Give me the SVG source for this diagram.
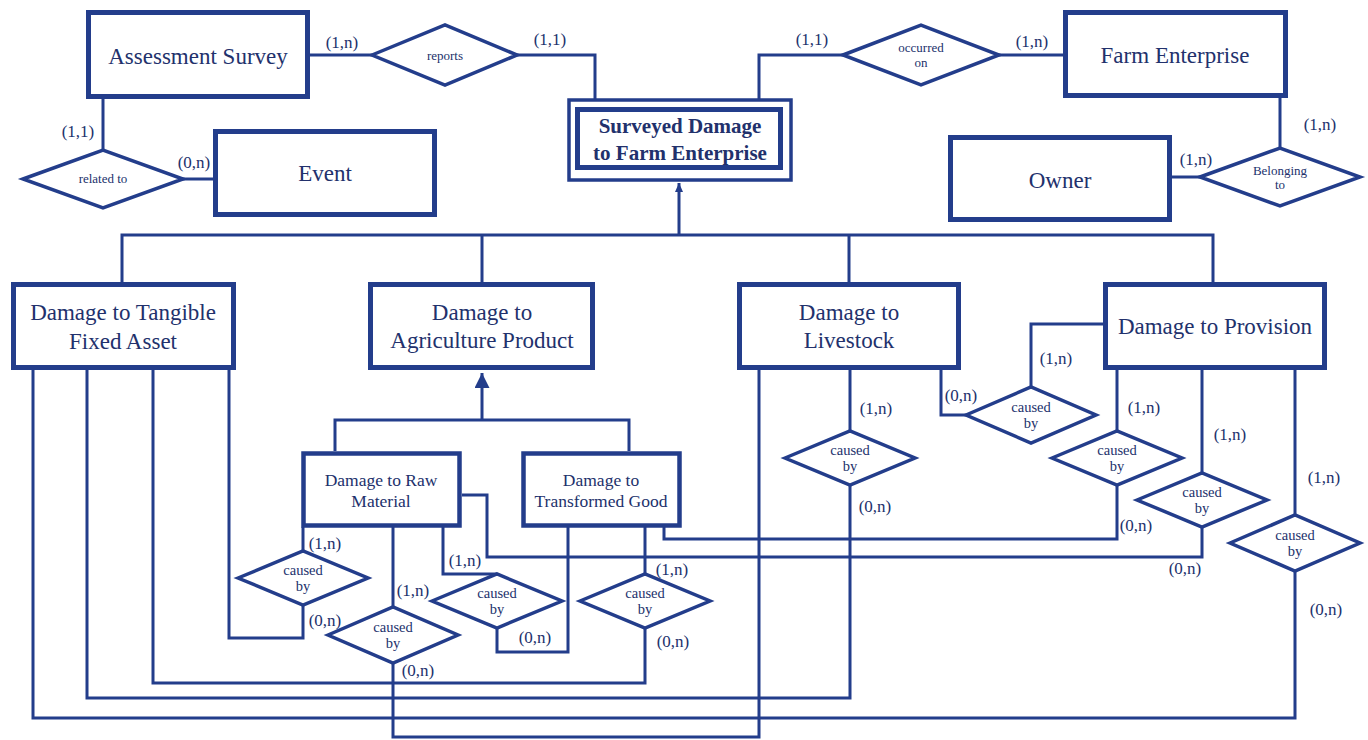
<svg xmlns="http://www.w3.org/2000/svg" width="1368" height="740" viewBox="0 0 1368 740">
  <style>
    .ent { fill: #ffffff; stroke: #233d8b; stroke-width: 5; }
    .sub { fill: #ffffff; stroke: #233d8b; stroke-width: 4.5; }
    .rel { fill: #ffffff; stroke: #233d8b; stroke-width: 3.5; stroke-linejoin: miter; }
    .ln { fill: none; stroke: #233d8b; stroke-width: 3; stroke-linejoin: miter; }
    text { font-family: "Liberation Serif", "Times New Roman", serif; fill: #22316c; text-anchor: middle; }
    .t { font-size: 23px; }
    .tb { font-size: 21px; font-weight: bold; }
    .ts { font-size: 17.5px; }
    .rt { font-size: 14.5px; }
    .rs { font-size: 13px; }
    .c { font-size: 17px; }
  </style>
  <defs>
    <marker id="isaSmall" markerUnits="userSpaceOnUse" markerWidth="9" markerHeight="9" refX="9" refY="4" orient="auto">
      <path d="M0,0 L9,4 L0,8 z" fill="#233d8b"/>
    </marker>
    <marker id="isaLarge" markerUnits="userSpaceOnUse" markerWidth="16" markerHeight="16" refX="15" refY="7.5" orient="auto">
      <path d="M0,0 L15,7.5 L0,15 z" fill="#233d8b"/>
    </marker>
  </defs>

  <!-- connectors -->
  <g id="connectors">
    <path class="ln" d="M310,55 H372"/>
    <path class="ln" d="M517,55 H595 V99"/>
    <path class="ln" d="M759,99 V55 H843"/>
    <path class="ln" d="M999,55 H1063"/>
    <path class="ln" d="M1280,97 V148"/>
    <path class="ln" d="M1172,177 H1200"/>
    <path class="ln" d="M103,99 V150"/>
    <path class="ln" d="M183,179 H213"/>

    <!-- generalisation of surveyed damage -->
    <path class="ln" d="M122,282 V235 H1213 V282"/>
    <path class="ln" d="M482,235 V282"/>
    <path class="ln" d="M849,235 V282"/>
    <path class="ln" d="M679,235 V183" marker-end="url(#isaSmall)"/>

    <!-- generalisation of agriculture product -->
    <path class="ln" d="M335,451 V420 H629 V451"/>
    <path class="ln" d="M482,420 V373" marker-end="url(#isaLarge)"/>

    <!-- tangible fixed asset links -->
    <path class="ln" d="M229,369 V638 H303 V605"/>
    <path class="ln" d="M153,369 V683 H645 V628"/>
    <path class="ln" d="M87,369 V698 H850 V485"/>
    <path class="ln" d="M33,369 V718 H1295 V571"/>

    <!-- raw material links -->
    <path class="ln" d="M303,527 V551"/>
    <path class="ln" d="M393,527 V607"/>
    <path class="ln" d="M393,663 V737 H759 V369"/>
    <path class="ln" d="M443,527 V574 H497"/>
    <path class="ln" d="M497,628 V652 H568 V527"/>
    <path class="ln" d="M462,495 H487 V557 H1202 V527"/>

    <!-- transformed good links -->
    <path class="ln" d="M645,527 V574"/>
    <path class="ln" d="M664,527 V539 H1117 V485"/>

    <!-- livestock links -->
    <path class="ln" d="M850,369 V431"/>
    <path class="ln" d="M941,369 V415 H966"/>

    <!-- provision links -->
    <path class="ln" d="M1105,324 H1031 V387"/>
    <path class="ln" d="M1117,369 V431"/>
    <path class="ln" d="M1202,369 V473"/>
    <path class="ln" d="M1295,369 V515"/>
  </g>

  <!-- entities -->
  <g id="assessment-survey">
    <rect class="ent" x="88.5" y="12.5" width="219" height="84"/>
    <text class="t" x="198" y="64">Assessment Survey</text>
  </g>
  <g id="event">
    <rect class="ent" x="215.5" y="131.5" width="219" height="83"/>
    <text class="t" x="325" y="181">Event</text>
  </g>
  <g id="surveyed-damage">
    <rect fill="#ffffff" stroke="#233d8b" stroke-width="3.5" x="569" y="100" width="222" height="80"/>
    <rect fill="#ffffff" stroke="#233d8b" stroke-width="5" x="577.5" y="109.5" width="203" height="58"/>
    <text class="tb" x="680" y="133">Surveyed Damage</text>
    <text class="tb" x="680" y="160">to Farm Enterprise</text>
  </g>
  <g id="farm-enterprise">
    <rect class="ent" x="1065.5" y="12.5" width="220" height="83"/>
    <text class="t" x="1175" y="63">Farm Enterprise</text>
  </g>
  <g id="owner">
    <rect class="ent" x="950.5" y="137.5" width="219" height="82"/>
    <text class="t" x="1060" y="188">Owner</text>
  </g>
  <g id="tangible-fixed-asset">
    <rect class="ent" x="13.5" y="284.5" width="220" height="83"/>
    <text class="t" x="123" y="320">Damage to Tangible</text>
    <text class="t" x="123" y="349">Fixed Asset</text>
  </g>
  <g id="agriculture-product">
    <rect class="ent" x="370.5" y="284.5" width="222" height="83"/>
    <text class="t" x="482" y="320">Damage to</text>
    <text class="t" x="482" y="348">Agriculture Product</text>
  </g>
  <g id="livestock">
    <rect class="ent" x="739.5" y="284.5" width="219" height="83"/>
    <text class="t" x="849" y="320">Damage to</text>
    <text class="t" x="849" y="348">Livestock</text>
  </g>
  <g id="provision">
    <rect class="ent" x="1105.5" y="284.5" width="219" height="83"/>
    <text class="t" x="1215" y="334">Damage to Provision</text>
  </g>
  <g id="raw-material">
    <rect class="sub" x="303.5" y="453.5" width="156" height="72"/>
    <text class="ts" x="381" y="486">Damage to Raw</text>
    <text class="ts" x="381" y="507">Material</text>
  </g>
  <g id="transformed-good">
    <rect class="sub" x="523.5" y="453.5" width="156" height="72"/>
    <text class="ts" x="601" y="486">Damage to</text>
    <text class="ts" x="601" y="507">Transformed Good</text>
  </g>

  <!-- relationships -->
  <g id="reports">
    <polygon class="rel" points="372,55 445,25 517,55 445,85"/>
    <text class="rs" x="445" y="60">reports</text>
  </g>
  <g id="occurred-on">
    <polygon class="rel" points="843,55 921,25 999,55 921,85"/>
    <text class="rs" x="921" y="52">occurred</text>
    <text class="rs" x="921" y="67">on</text>
  </g>
  <g id="related-to">
    <polygon class="rel" points="23,179 103,150 183,179 103,208"/>
    <text class="rs" x="103" y="183">related to</text>
  </g>
  <g id="belonging-to">
    <polygon class="rel" points="1200,177 1280,148 1360,177 1280,206"/>
    <text class="rs" x="1280" y="175">Belonging</text>
    <text class="rs" x="1280" y="189">to</text>
  </g>
  <g id="caused-by-a">
    <polygon class="rel" points="238,578 303,551 368,578 303,605"/>
    <text class="rt" x="303" y="575">caused</text>
    <text class="rt" x="303" y="591">by</text>
  </g>
  <g id="caused-by-b">
    <polygon class="rel" points="328,635 393,607 458,635 393,663"/>
    <text class="rt" x="393" y="632">caused</text>
    <text class="rt" x="393" y="648">by</text>
  </g>
  <g id="caused-by-c">
    <polygon class="rel" points="432,601 497,574 562,601 497,628"/>
    <text class="rt" x="497" y="598">caused</text>
    <text class="rt" x="497" y="614">by</text>
  </g>
  <g id="caused-by-d">
    <polygon class="rel" points="580,601 645,574 710,601 645,628"/>
    <text class="rt" x="645" y="598">caused</text>
    <text class="rt" x="645" y="614">by</text>
  </g>
  <g id="caused-by-e">
    <polygon class="rel" points="785,458 850,431 915,458 850,485"/>
    <text class="rt" x="850" y="455">caused</text>
    <text class="rt" x="850" y="471">by</text>
  </g>
  <g id="caused-by-f">
    <polygon class="rel" points="966,415 1031,387 1096,415 1031,443"/>
    <text class="rt" x="1031" y="412">caused</text>
    <text class="rt" x="1031" y="428">by</text>
  </g>
  <g id="caused-by-g">
    <polygon class="rel" points="1052,458 1117,431 1182,458 1117,485"/>
    <text class="rt" x="1117" y="455">caused</text>
    <text class="rt" x="1117" y="471">by</text>
  </g>
  <g id="caused-by-h">
    <polygon class="rel" points="1137,500 1202,473 1267,500 1202,527"/>
    <text class="rt" x="1202" y="497">caused</text>
    <text class="rt" x="1202" y="513">by</text>
  </g>
  <g id="caused-by-i">
    <polygon class="rel" points="1230,543 1295,515 1360,543 1295,571"/>
    <text class="rt" x="1295" y="540">caused</text>
    <text class="rt" x="1295" y="556">by</text>
  </g>

  <!-- cardinalities -->
  <g id="cardinalities">
    <text class="c" x="342" y="48">(1,n)</text>
    <text class="c" x="550" y="45">(1,1)</text>
    <text class="c" x="812" y="45">(1,1)</text>
    <text class="c" x="1032" y="47">(1,n)</text>
    <text class="c" x="1320" y="130">(1,n)</text>
    <text class="c" x="1196" y="165">(1,n)</text>
    <text class="c" x="78" y="137">(1,1)</text>
    <text class="c" x="194" y="168">(0,n)</text>

    <text class="c" x="325" y="549">(1,n)</text>
    <text class="c" x="325" y="626">(0,n)</text>
    <text class="c" x="413" y="596">(1,n)</text>
    <text class="c" x="418" y="676">(0,n)</text>
    <text class="c" x="465" y="566">(1,n)</text>
    <text class="c" x="535" y="643">(0,n)</text>
    <text class="c" x="672" y="575">(1,n)</text>
    <text class="c" x="673" y="647">(0,n)</text>
    <text class="c" x="876" y="414">(1,n)</text>
    <text class="c" x="875" y="512">(0,n)</text>
    <text class="c" x="961" y="401">(0,n)</text>
    <text class="c" x="1056" y="364">(1,n)</text>
    <text class="c" x="1144" y="413">(1,n)</text>
    <text class="c" x="1136" y="531">(0,n)</text>
    <text class="c" x="1230" y="440">(1,n)</text>
    <text class="c" x="1185" y="574">(0,n)</text>
    <text class="c" x="1324" y="483">(1,n)</text>
    <text class="c" x="1326" y="615">(0,n)</text>
  </g>
</svg>
